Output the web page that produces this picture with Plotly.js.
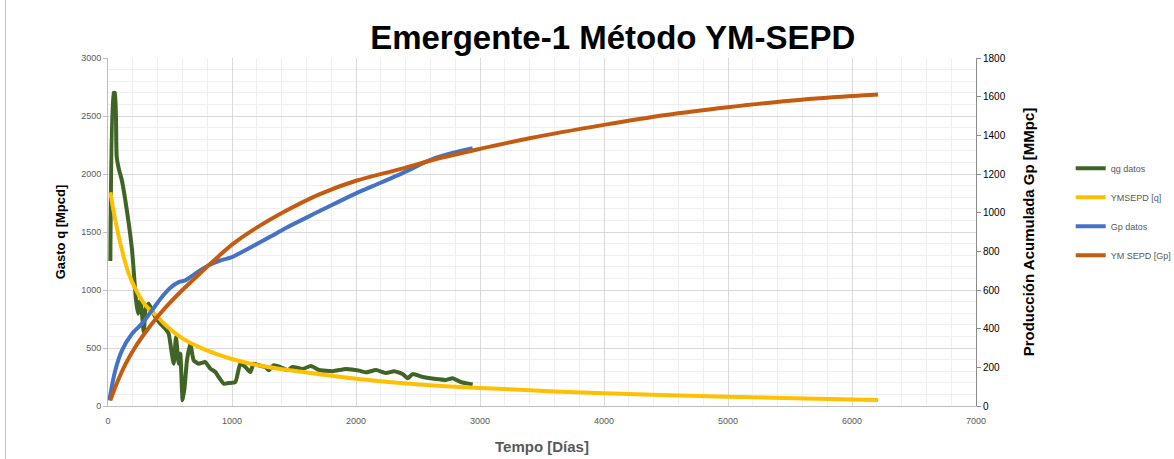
<!DOCTYPE html>
<html><head><meta charset="utf-8">
<script src="https://cdn.plot.ly/plotly-3.0.1.min.js"></script>
<style>body{margin:0;background:#fff}#c{width:1174px;height:459px}</style>
</head><body><div id="c"></div>
<script>
// qg datos (left axis, Mpcd)
const qgDays = [19,46,56,70,86,113,153,194,215,226,242,261,274,288,306,328,355,382,422,462,489,511,530,548,570,583,602,618,637,664,691,731,785,825,866,892,933,973,1027,1067,1108,1148,1175,1215,1269,1296,1336,1390,1449,1489,1570,1637,1704,1812,1919,2027,2081,2161,2242,2309,2376,2417,2457,2538,2645,2726,2780,2847,2941];
const qgVals = [1250,2700,2700,2150,2050,1940,1680,1342,1055,911,796,911,796,638,854,882,825,767,710,667,624,480,365,595,365,451,49,164,394,537,394,365,379,322,293,250,193,198,207,365,336,293,365,351,336,308,351,336,309,337,320,345,310,300,320,305,290,310,285,300,275,240,275,250,232,225,240,205,185];
// YMSEPD [q] (left axis)
const ymqDays = [19,59,113,167,220,301,395,462,597,731,866,1000,1134,1269,1403,1538,2000,2457,3000,4000,5000,6000,6210];
const ymqVals = [1843,1600,1342,1141,1012,870,775,700,585,510,452,405,368,340,316,298,235,190,155,110,80,57,52];
// Gp datos (right axis, MMpc)
const gpDays = [11,59,113,194,274,355,435,503,570,624,704,812,893,1000,1054,1167,1323,1435,1704,2000,2188,2371,2640,2941];
const gpVals = [29,185,288,374,426,495,564,612,641,650,685,728,750,770,788,826,880,921,1007,1100,1152,1203,1283,1334];
// YM SEPD [Gp] (right axis)
const ymgDays = [19,73,140,220,301,409,500,600,700,790,893,1000,1167,1435,1704,2000,2371,2640,3000,3400,4000,4500,5000,5500,6000,6210];
const ymgVals = [29,120,215,305,380,469,535,600,660,715,775,835,910,1010,1095,1165,1228,1276,1330,1385,1454,1505,1545,1579,1603,1611];

const lw = 4;
const traces = [
  {x: qgDays, y: qgVals, name: 'qg datos', legendgroup:'a', mode:'lines', line:{color:'#3f6426', width:lw, shape:'spline', smoothing:0.5}},
  {x: ymqDays, y: ymqVals, name: 'YMSEPD [q]', legendgroup:'b', mode:'lines', line:{color:'#ffc000', width:lw, shape:'spline'}},
  {x: gpDays, y: gpVals, name: 'Gp datos', legendgroup:'c', yaxis:'y2', mode:'lines', line:{color:'#4472c4', width:lw, shape:'spline'}},
  {x: ymgDays, y: ymgVals, name: 'YM SEPD [Gp]', legendgroup:'d', yaxis:'y2', mode:'lines', line:{color:'#c55a11', width:lw, shape:'spline'}}
];

const F = 'Liberation Sans, Arial, sans-serif';
const tickFont = {family:F, size:9, color:'#595959'};
const layout = {
  width:1174, height:459,
  margin:{l:108, r:198, t:58, b:53},
  paper_bgcolor:'#fff', plot_bgcolor:'#fff',
  title:{text:'<b>Emergente-1 Método YM-SEPD</b>', x:0.522, xref:'container', xanchor:'center', y:0.918, yref:'container', yanchor:'middle',
         font:{family:F, size:33, color:'#000'}},
  xaxis:{range:[0,7000], tickvals:[0,1000,2000,3000,4000,5000,6000,7000], ticktext:['0','1000','2000','3000','4000','5000','6000','7000'],
         showline:true, linecolor:'#bfbfbf', linewidth:1, zeroline:false, automargin:false,
         showgrid:true, gridcolor:'#d9d9d9', gridwidth:1,
         minor:{dtick:200, showgrid:true, gridcolor:'#efefef', gridwidth:1},
         tickfont:tickFont, ticks:'', ticklabelstandoff:6,
         title:{text:'<b>Tempo [Días]</b>', font:{family:F, size:15, color:'#595959'}, standoff:16}},
  yaxis:{range:[0,3000], tickvals:[0,500,1000,1500,2000,2500,3000], ticktext:['0','500','1000','1500','2000','2500','3000'],
         showline:true, linecolor:'#bfbfbf', linewidth:1, zeroline:false, automargin:false,
         showgrid:true, gridcolor:'#d9d9d9', gridwidth:1,
         minor:{dtick:100, showgrid:true, gridcolor:'#efefef', gridwidth:1},
         ticks:'outside', ticklen:4, tickcolor:'#bfbfbf',
         tickfont:tickFont,
         title:{text:'<b>Gasto q [Mpcd]</b>', font:{family:F, size:13, color:'#000'}, standoff:12}},
  yaxis2:{range:[0,1800], overlaying:'y', side:'right', tickvals:[0,200,400,600,800,1000,1200,1400,1600,1800],
          ticktext:['0','200','400','600','800','1000','1200','1400','1600','1800'],
          showline:true, linecolor:'#8c8c8c', linewidth:1, showgrid:false, zeroline:false, automargin:false,
          ticks:'outside', ticklen:4, tickcolor:'#8c8c8c',
          tickfont:{family:F, size:10, color:'#000'},
          title:{text:'<b>Producción Acumulada Gp [MMpc]</b>', font:{family:F, size:15, color:'#000'}, standoff:18}},
  showlegend:true,
  legend:{xref:'container', yref:'container', x:0.912, y:0.665, xanchor:'left', yanchor:'top', tracegroupgap:10, itemwidth:30,
          font:{family:F, size:9, color:'#595959'}, bgcolor:'rgba(0,0,0,0)'},
  shapes:[{type:'line', xref:'paper', yref:'paper', x0:-0.118, x1:-0.118, y0:-0.2, y1:1.2, line:{color:'#bfbfbf', width:1}}]
};
Plotly.newPlot('c', traces, layout, {displayModeBar:false, staticPlot:true});
</script>
</body></html>
